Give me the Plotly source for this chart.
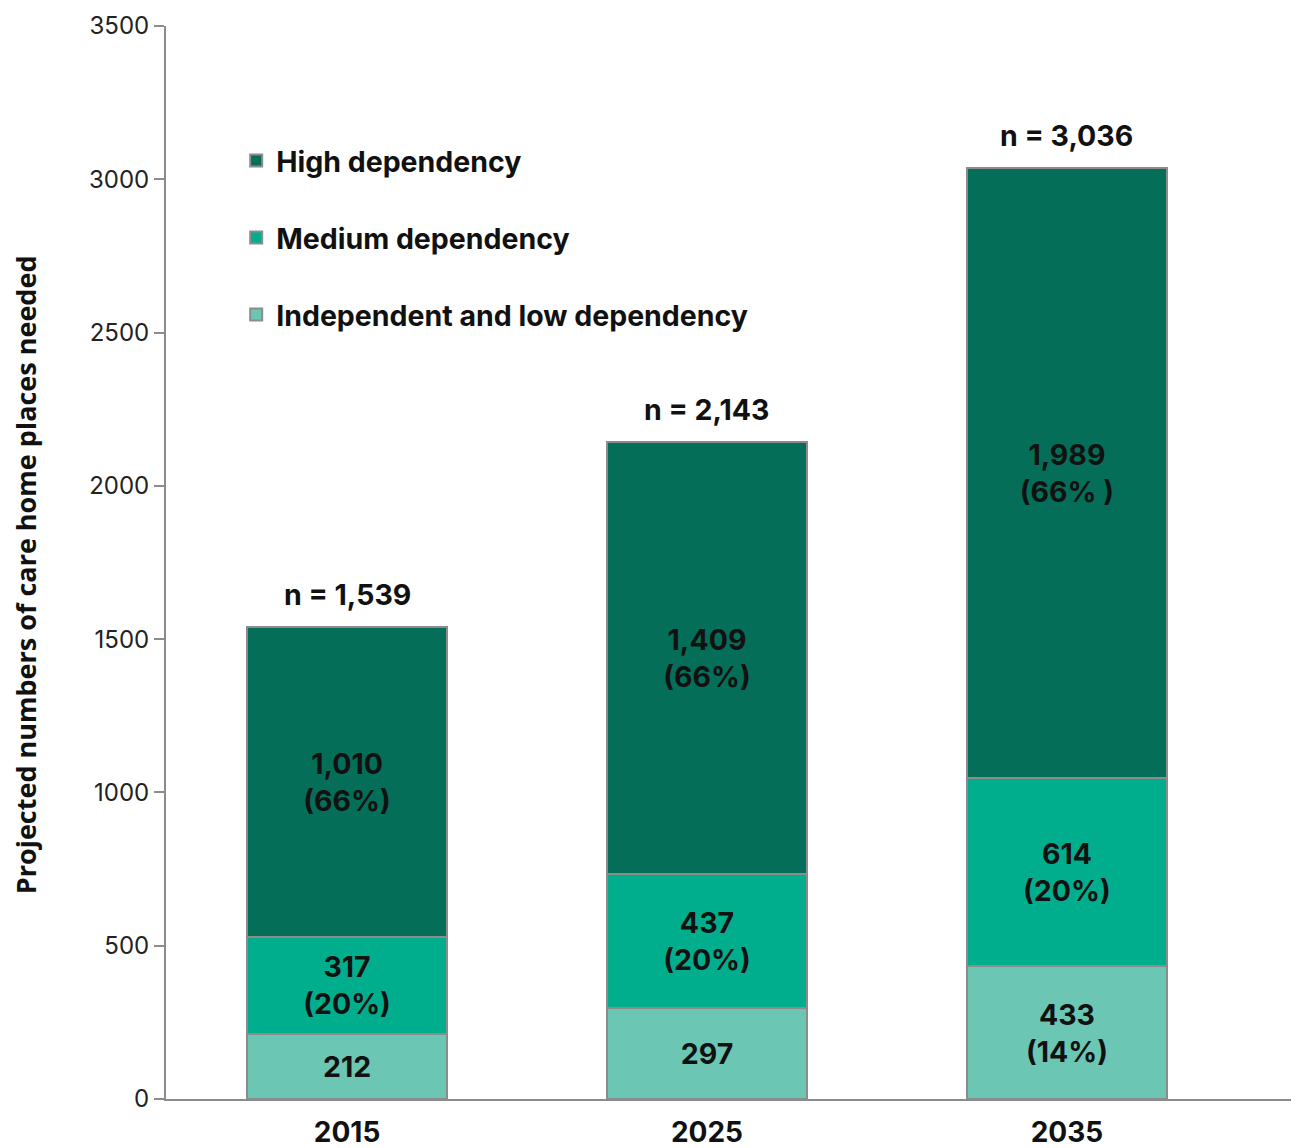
import plotly.graph_objects as go

# --- DATA ---
years = ["2015", "2025", "2035"]
low_vals = [212, 297, 433]
medium_vals = [317, 437, 614]
high_vals = [1010, 1409, 1989]
totals = [1539, 2143, 3036]

low_text = ["212", "297", "433<br>(14%)"]
medium_text = ["317<br>(20%)", "437<br>(20%)", "614<br>(20%)"]
high_text = ["1,010<br>(66%)", "1,409<br>(66%)", "1,989<br>(66% )"]
total_text = ["n = 1,539", "n = 2,143", "n = 3,036"]

y_ticks = [0, 500, 1000, 1500, 2000, 2500, 3000, 3500]

BOLD = "Inter"
LABEL_FONT = dict(family=BOLD, size=28.5, color="#111111", weight="bold")

# name, values, labels, colour, legend rank
series = [
    ("Independent and low dependency", low_vals, low_text, "#6CC6B4", 3),
    ("Medium dependency", medium_vals, medium_text, "#00AE8E", 2),
    ("High dependency", high_vals, high_text, "#046E58", 1),
]

fig = go.Figure()
for i, (name, vals, txt, col, rank) in enumerate(series):
    fig.add_trace(go.Bar(
        x=years, y=vals, name=name, text=txt,
        textposition="inside", insidetextanchor="middle", textangle=0,
        constraintext="none",
        textfont=LABEL_FONT,
        marker=dict(color=col, line=dict(color="#8C8C8C", width=2)),
        width=0.556, legendgroup=f"g{i}", legendrank=rank,
        hoverinfo="skip",
    ))

# totals above bars (x by category index)
for i, (tot, lab) in enumerate(zip(totals, total_text)):
    fig.add_annotation(x=i, y=tot, xref="x", yref="y", text=lab, showarrow=False,
                       yanchor="bottom", yshift=13, font=LABEL_FONT)

# y axis title placed as a rotated annotation
fig.add_annotation(
    text="Projected numbers of care home places needed",
    xref="paper", yref="paper", x=-0.1246, y=0.489,
    xanchor="center", yanchor="middle", textangle=-90, showarrow=False,
    font=dict(family="Open Sans", size=27, color="#111111", weight="bold"),
)

fig.update_layout(
    width=1299, height=1148,
    barmode="stack",
    plot_bgcolor="white", paper_bgcolor="white",
    margin=dict(l=158, r=9, t=18, b=57),
    showlegend=True,
    legend=dict(
        x=0.062, y=0.898, xanchor="left", yanchor="top",
        traceorder="grouped", tracegroupgap=37,
        font=dict(family=BOLD, size=28.5, color="#111111", weight="bold"),
        bgcolor="rgba(0,0,0,0)",
    ),
    xaxis=dict(
        type="category", automargin=False,
        range=[-0.503, 2.642],
        showline=True, linecolor="#8C8C8C", linewidth=2,
        ticks="", showgrid=False, ticklabelstandoff=7,
        tickfont=dict(family=BOLD, size=28, color="#111111", weight="bold"),
    ),
    yaxis=dict(
        automargin=False,
        range=[0, 3500], tickvals=y_ticks,
        showline=True, linecolor="#8C8C8C", linewidth=2,
        ticks="outside", ticklen=10, tickcolor="#8C8C8C", tickwidth=2,
        showgrid=False, zeroline=False,
        tickfont=dict(family=BOLD, size=24, color="#222222"),
    ),
)

fig.write_html("out.html")
